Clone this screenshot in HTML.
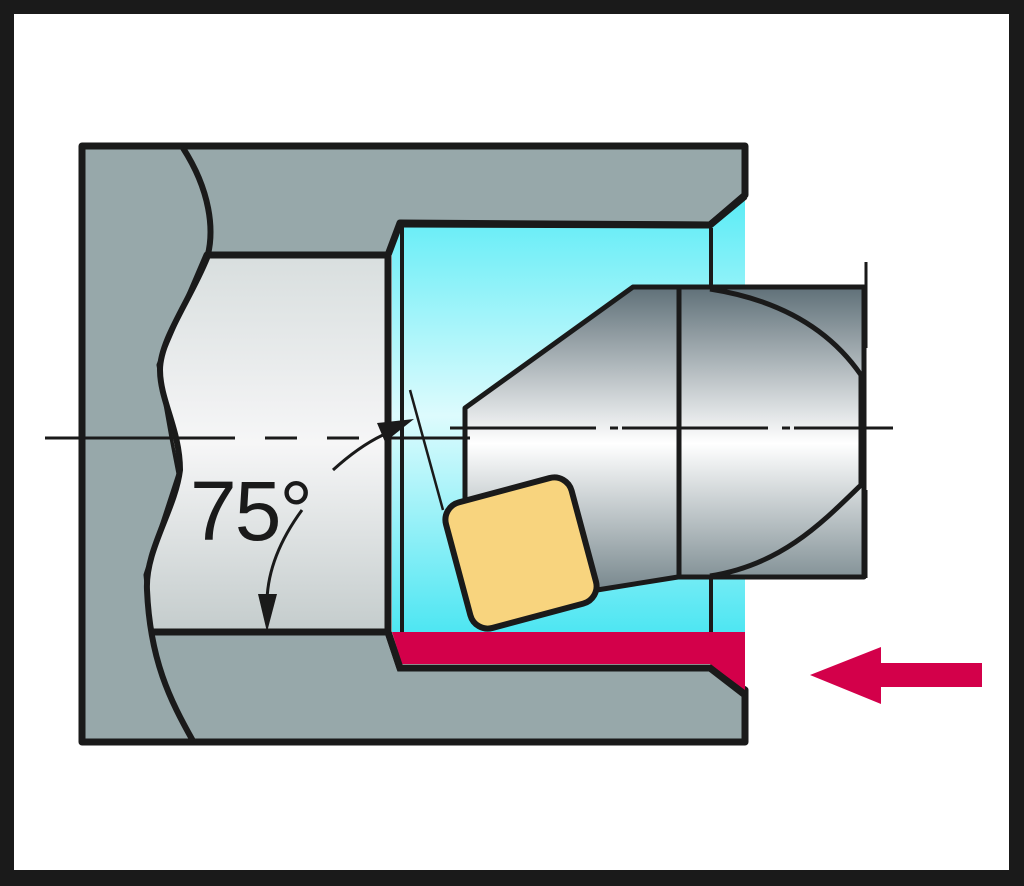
<!DOCTYPE html>
<html><head><meta charset="utf-8"><style>
html,body{margin:0;padding:0;background:#1a1a1a}
svg{display:block}
</style></head><body>
<svg width="1024" height="886" viewBox="0 0 1024 886" xmlns="http://www.w3.org/2000/svg">
<defs>
<linearGradient id="bore" x1="0" y1="0" x2="0" y2="1">
<stop offset="0" stop-color="#d8dede"/><stop offset="0.5" stop-color="#f6f6f7"/><stop offset="1" stop-color="#c4cccc"/>
</linearGradient>
<linearGradient id="cyan" x1="0" y1="0" x2="0" y2="1">
<stop offset="0" stop-color="#5cecf6"/><stop offset="0.5" stop-color="#ddfbfd"/><stop offset="1" stop-color="#4ee6f2"/>
</linearGradient>
<linearGradient id="tool" x1="0" y1="0" x2="0" y2="1">
<stop offset="0" stop-color="#5f7078"/><stop offset="0.5" stop-color="#ffffff"/><stop offset="1" stop-color="#6f8086"/>
</linearGradient>
</defs>
<rect x="0" y="0" width="1024" height="886" fill="#1a1a1a"/>
<rect x="14" y="14" width="995" height="856" fill="#ffffff"/>
<rect x="392" y="200" width="353" height="432" fill="url(#cyan)"/>
<path d="M82,146 L745,146 L745,195 L710,225 L400,223 L388,255 L207,255 L160,365 L173,438 L180,474 L147,575 L153,632 L388,632 L400,668 L710,668 L745,690 L745,742 L82,742 Z" fill="#97a8aa" stroke="#1a1a1a" stroke-width="7" stroke-linejoin="round"/>
<path d="M392,632 L745,632 L745,690 L710,664 L402,664 Z" fill="#d3004a"/>
<path d="M388,632 L400,668 L710,668 L745,695" fill="none" stroke="#1a1a1a" stroke-width="7"/>
<path d="M207,255 L388,255 L388,632 L153,632 L147,575 L180,474 L173,438 L160,365 Z" fill="url(#bore)"/>
<path d="M207,255 L388,255 L388,632 L153,632" fill="none" stroke="#1a1a1a" stroke-width="7"/>
<path d="M183,148 C210,190 215,230 207,258 C190,300 160,340 160,370 C160,400 180,430 180,470 C175,510 145,550 147,590 C150,660 170,700 193,741" fill="none" stroke="#1a1a1a" stroke-width="6"/>
<path d="M400,224 L710,225 L745,196" fill="none" stroke="#1a1a1a" stroke-width="7"/>
<line x1="402" y1="225" x2="402" y2="632" stroke="#1a1a1a" stroke-width="4"/>
<line x1="711" y1="228" x2="711" y2="290" stroke="#1a1a1a" stroke-width="4"/>
<line x1="711" y1="577" x2="711" y2="632" stroke="#1a1a1a" stroke-width="4"/>
<path d="M465,408 L633,287 L864,287 L864,577 L678,577 L597,590 L470,600 L465,500 Z" fill="url(#tool)" stroke="#1a1a1a" stroke-width="5" stroke-linejoin="round"/>
<line x1="679" y1="287" x2="679" y2="577" stroke="#1a1a1a" stroke-width="5"/>
<path d="M710,289 C780,300 830,330 861,375 L861,485 C820,525 780,565 710,576" fill="none" stroke="#1a1a1a" stroke-width="5"/>
<line x1="866" y1="262" x2="866" y2="348" stroke="#1a1a1a" stroke-width="3"/>
<line x1="866" y1="490" x2="866" y2="578" stroke="#1a1a1a" stroke-width="3"/>
<line x1="45" y1="438" x2="470" y2="438" stroke="#1a1a1a" stroke-width="3" stroke-dasharray="190,30,32,30,32,30,200"/>
<line x1="450" y1="428" x2="893" y2="428" stroke="#1a1a1a" stroke-width="3" stroke-dasharray="146,14,8,4,146,14,8,4,200"/>
<g transform="rotate(-15 521 553)">
<rect x="456" y="488" width="130" height="130" rx="18" fill="#f8d47e" stroke="#1a1a1a" stroke-width="6"/>
</g>
<line x1="410" y1="390" x2="443" y2="510" stroke="#1a1a1a" stroke-width="2.5"/>
<path d="M333,470 C355,450 375,437 395,430" fill="none" stroke="#1a1a1a" stroke-width="3"/>
<polygon points="414,419 377,423 385,442" fill="#1a1a1a"/>
<path d="M302,510 C280,540 268,570 267,600" fill="none" stroke="#1a1a1a" stroke-width="3"/>
<polygon points="267,632 258,594 277,594" fill="#1a1a1a"/>
<text x="190" y="540" font-family="Liberation Sans Narrow, Liberation Sans, sans-serif" font-size="84" fill="#1a1a1a" letter-spacing="-2">75°</text>
<polygon points="810,675 881,647 881,663 982,663 982,687 881,687 881,704" fill="#d3004a"/>
</svg>
</body></html>
